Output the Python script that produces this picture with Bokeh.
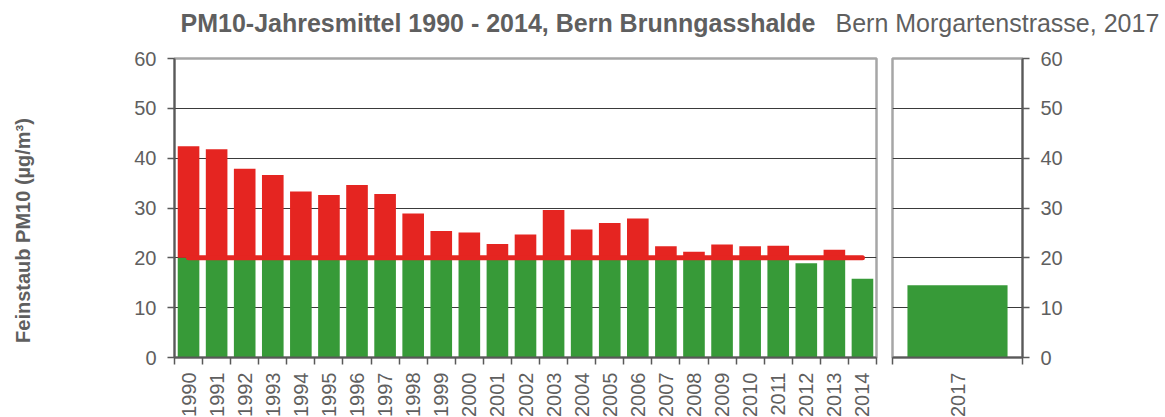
import math
from bokeh.plotting import figure
from bokeh.layouts import column, row
from bokeh.models import (Range1d, LinearAxis, FixedTicker, Label, ColumnDataSource)
from bokeh.embed import file_html
from bokeh.resources import INLINE

# ---------------- data ----------------
years = [str(y) for y in range(1990, 2015)]
pm10 = [42.4, 41.8, 37.9, 36.6, 33.3, 32.6, 34.6, 32.8, 28.9, 25.4, 25.1, 22.8,
        24.7, 29.6, 25.7, 27.0, 27.9, 22.3, 21.2, 22.7, 22.3, 22.4, 18.9, 21.6, 15.8]
years_right = ["2017"]
pm10_right = [14.5]
grenzwert = 20
y_ticks = [0, 10, 20, 30, 40, 50, 60]

title_left = "PM10-Jahresmittel 1990 - 2014, Bern Brunngasshalde"
title_right = "Bern Morgartenstrasse, 2017"
y_label = "Feinstaub PM10 (µg/m³)"

# ---------------- style ----------------
RED = "#e52521"
GREEN = "#379a38"
TXT = "#5f5f5f"
GRID = "#3a3a3a"
FRAME = "#a6a6a6"
AXIS = "#595959"
FONT = "Liberation Sans"
TICK_FS = "20px"

FRAME_TOP = 10
FRAME_H = 299
BOTTOM = 56
YLAB_W = 44


def split(vals, limit):
    green_top = [min(v, limit) for v in vals]
    red_bot = [limit if v > limit else v for v in vals]
    return green_top, red_bot


def style_yaxis(ax):
    ax.ticker = FixedTicker(ticks=y_ticks)
    ax.axis_line_color = AXIS
    ax.axis_line_width = 2
    ax.major_tick_line_color = AXIS
    ax.major_tick_line_width = 1.5
    ax.major_tick_out = 7
    ax.major_tick_in = 0
    ax.minor_tick_line_color = None
    ax.major_label_text_font = FONT
    ax.major_label_text_font_size = TICK_FS
    ax.major_label_text_color = TXT
    ax.major_label_standoff = 11


def add_x_axis(p, labels):
    n = len(labels)
    centers = [i + 0.5 for i in range(n)]
    edges = list(range(n + 1))
    ax = LinearAxis(ticker=FixedTicker(ticks=centers, minor_ticks=edges),
                    major_label_overrides={c: lab for c, lab in zip(centers, labels)})
    ax.axis_line_color = AXIS
    ax.axis_line_width = 2
    ax.major_tick_line_color = None
    ax.major_tick_out = 0
    ax.major_tick_in = 0
    ax.minor_tick_line_color = AXIS
    ax.minor_tick_line_width = 1.5
    ax.minor_tick_out = 7
    ax.minor_tick_in = 0
    ax.major_label_orientation = math.pi / 2
    ax.major_label_text_font = FONT
    ax.major_label_text_font_size = TICK_FS
    ax.major_label_text_color = TXT
    ax.major_label_standoff = 8
    p.add_layout(ax, "below")
    return centers


def make_panel(labels, vals, **kw):
    p = figure(x_range=Range1d(0, len(labels)), y_range=Range1d(0, 60),
               frame_height=FRAME_H, min_border_top=FRAME_TOP, min_border_bottom=BOTTOM,
               x_axis_location=None, toolbar_location=None,
               output_backend="svg", **kw)
    p.outline_line_color = FRAME
    p.outline_line_width = 2.5
    p.xgrid.visible = False
    p.ygrid.grid_line_color = GRID
    p.ygrid.grid_line_width = 1
    style_yaxis(p.yaxis[0])
    centers = add_x_axis(p, labels)
    g_top, r_bot = split(vals, grenzwert)
    src = ColumnDataSource(dict(x=centers, v=vals, g=g_top, r=r_bot))
    p.vbar(x="x", top="g", bottom=0, width=0.77, source=src,
           fill_color=GREEN, line_color=None)
    p.vbar(x="x", top="v", bottom="r", width=0.77, source=src,
           fill_color=RED, line_color=None)
    return p, centers


# ---------------- left panel ----------------
left, centers = make_panel(years, pm10, frame_width=702,
                           min_border_left=174 - YLAB_W, min_border_right=8,
                           y_axis_location="left")
left.line(x=[centers[0], centers[-1]], y=[grenzwert, grenzwert],
          line_color=RED, line_width=5, line_cap="round")

# ---------------- right panel ----------------
right, _ = make_panel(years_right, pm10_right, frame_width=130,
                      min_border_left=8, min_border_right=127,
                      y_axis_location="right")

# ---------------- y label strip ----------------
YH = FRAME_TOP + FRAME_H + BOTTOM
ylab_fig = figure(x_range=Range1d(0, YLAB_W), y_range=Range1d(0, YH),
                  frame_width=YLAB_W, frame_height=YH, min_border=0,
                  x_axis_location=None, y_axis_location=None,
                  toolbar_location=None, output_backend="svg")
ylab_fig.outline_line_color = None
ylab_fig.grid.visible = False
ylab_fig.add_layout(Label(x=22, y=YH - (229 - 48) + 9, text=y_label, angle=math.pi / 2,
                          text_align="center", text_baseline="middle",
                          text_font=FONT, text_font_style="bold",
                          text_font_size="20px", text_color=TXT))

# ---------------- title strip ----------------
TW, TH = 1160, 48
title_fig = figure(x_range=Range1d(0, TW), y_range=Range1d(0, TH),
                   frame_width=TW, frame_height=TH, min_border=0,
                   x_axis_location=None, y_axis_location=None,
                   toolbar_location=None, output_backend="svg")
title_fig.outline_line_color = None
title_fig.grid.visible = False
title_fig.add_layout(Label(x=180, y=26, text=title_left,
                           text_align="left", text_baseline="middle",
                           text_font=FONT, text_font_style="bold",
                           text_font_size="25px", text_color=TXT))
title_fig.add_layout(Label(x=835, y=26, text=title_right,
                           text_align="left", text_baseline="middle",
                           text_font=FONT, text_font_size="25px",
                           text_color=TXT))

layout = column(title_fig, row(ylab_fig, left, right))

with open("out.html", "w") as f:
    f.write(file_html(layout, INLINE))
